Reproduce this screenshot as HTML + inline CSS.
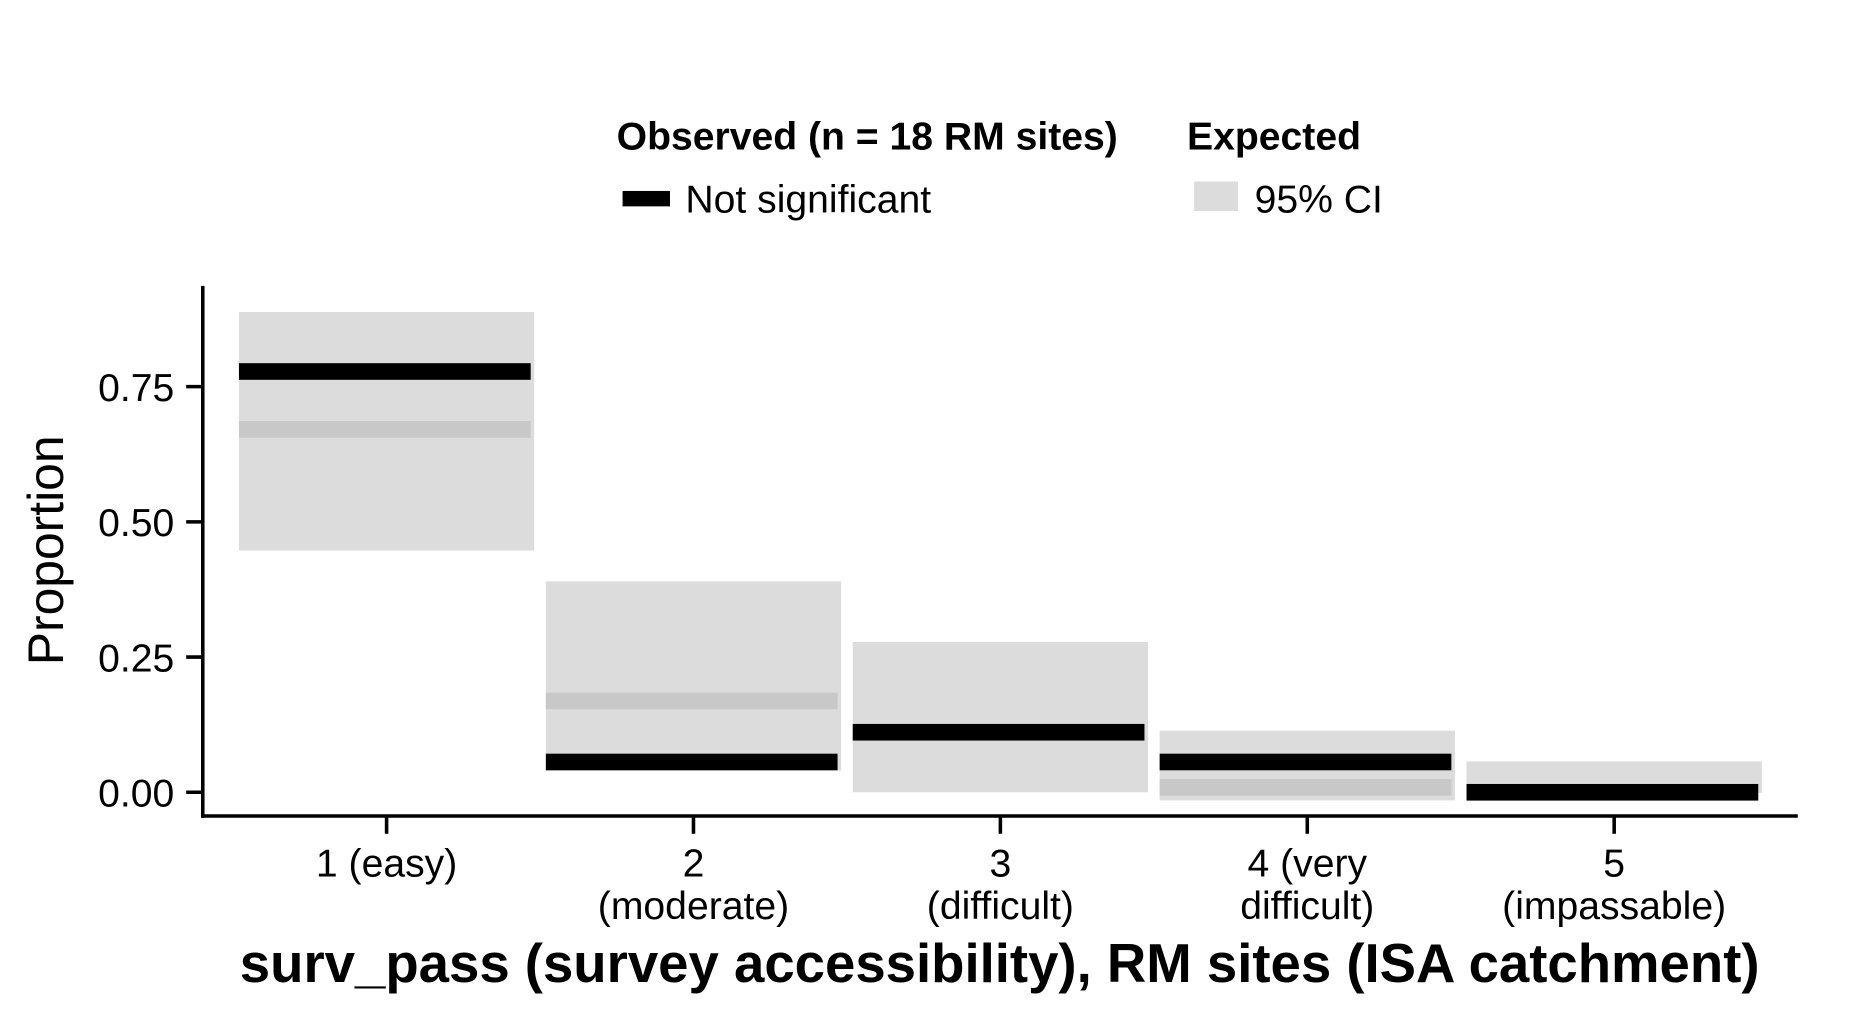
<!DOCTYPE html>
<html><head><meta charset="utf-8"><style>
html,body{margin:0;padding:0;background:#fff;}
svg{display:block;font-family:"Liberation Sans",Arial,sans-serif;}
</style></head><body>
<svg id="chart" width="1860" height="1020" viewBox="0 0 1568.5 860" preserveAspectRatio="none" xmlns="http://www.w3.org/2000/svg">
<g>
<text x="520" y="126" font-size="33" font-weight="bold">Observed (n = 18 RM sites)</text>
<rect x="525" y="161" width="40" height="13" fill="#000"/>
<text x="578" y="179" font-size="33">Not significant</text>
<text x="1001" y="126" font-size="33" font-weight="bold">Expected</text>
<rect x="1007" y="153" width="37" height="25" fill="#dcdcdc"/>
<text x="1058" y="179" font-size="33">95% CI</text>
</g>
<g id="marks"></g>
<g id="axes"></g>
</svg>
<script>
const categories = ["1 (easy)", "2|(moderate)", "3|(difficult)", "4 (very|difficult)", "5|(impassable)"];
const ciLow = [0.447, 0.04, 0.0, -0.015, -0.001];
const ciHigh = [0.888, 0.39, 0.278, 0.114, 0.057];
const expected = [0.671, 0.169, 0.111, 0.009, 0.0];
const observed = [0.778, 0.056, 0.111, 0.056, 0.0];
const yTicks = [0, 0.25, 0.5, 0.75];
const yTickLabels = ["0.00", "0.25", "0.50", "0.75"];

const NS = "http://www.w3.org/2000/svg";
const y0 = 668, yPerUnit = 456;
const x0 = 326, step = 258.8;
function yScale(v){ return y0 - v * yPerUnit; }
function xScale(i){ return x0 + i * step; }
function mk(tag, attrs, parent){ const e = document.createElementNS(NS, tag); for (const k in attrs) e.setAttribute(k, attrs[k]); parent.appendChild(e); return e; }
const marks = document.getElementById("marks");
const axes = document.getElementById("axes");
const halfW = 124.5, lineH = 14;
categories.forEach((c, i) => {
  const cx = xScale(i);
  const ci = mk("rect", {x: cx - halfW, y: yScale(ciHigh[i]), width: halfW * 2, height: yScale(ciLow[i]) - yScale(ciHigh[i]), fill: "#dcdcdc"}, marks);
  
  
  const ex = mk("rect", {x: cx - halfW, y: yScale(expected[i]) - lineH / 2, width: halfW * 2 - 3, height: lineH, fill: "#c8c8c8"}, marks);
  
  
});
categories.forEach((c, i) => {
  const cx = xScale(i);
  const ob = mk("rect", {x: cx - halfW, y: yScale(observed[i]) - lineH / 2, width: halfW * 2 - 3, height: lineH, fill: "#000"}, marks);
  
  
});
const ya = mk("line", {x1: 171, y1: 241, x2: 171, y2: 689.5, stroke: "#000", "stroke-width": 3}, axes);


const xa = mk("line", {x1: 169.5, y1: 688, x2: 1516, y2: 688, stroke: "#000", "stroke-width": 3}, axes);


yTicks.forEach((v, i) => {
  const t = mk("line", {x1: 157, x2: 171, y1: yScale(v), y2: yScale(v), stroke: "#000", "stroke-width": 3}, axes);
  
  
  const l = mk("text", {x: 147, y: yScale(v) + 12, "font-size": 33, "text-anchor": "end"}, axes);
  l.textContent = yTickLabels[i];
  
  
});
categories.forEach((c, i) => {
  const cx = xScale(i);
  const t = mk("line", {x1: cx, x2: cx, y1: 688, y2: 703, stroke: "#000", "stroke-width": 3}, axes);
  
  
  c.split("|").forEach((part, j) => {
    const l = mk("text", {x: cx, y: 739 + j * 36, "font-size": 33, "text-anchor": "middle"}, axes);
    l.textContent = part;
    
    
  });
});
const yt = mk("text", {x: 0, y: 0, "font-size": 42, "text-anchor": "middle", transform: "translate(53,464) rotate(-90)"}, axes);
yt.textContent = "Proportion";


const xt = mk("text", {x: 843, y: 828, "font-size": 46, "font-weight": "bold", "text-anchor": "middle"}, axes);
xt.textContent = "surv_pass (survey accessibility), RM sites (ISA catchment)";


</script>
</body></html>
